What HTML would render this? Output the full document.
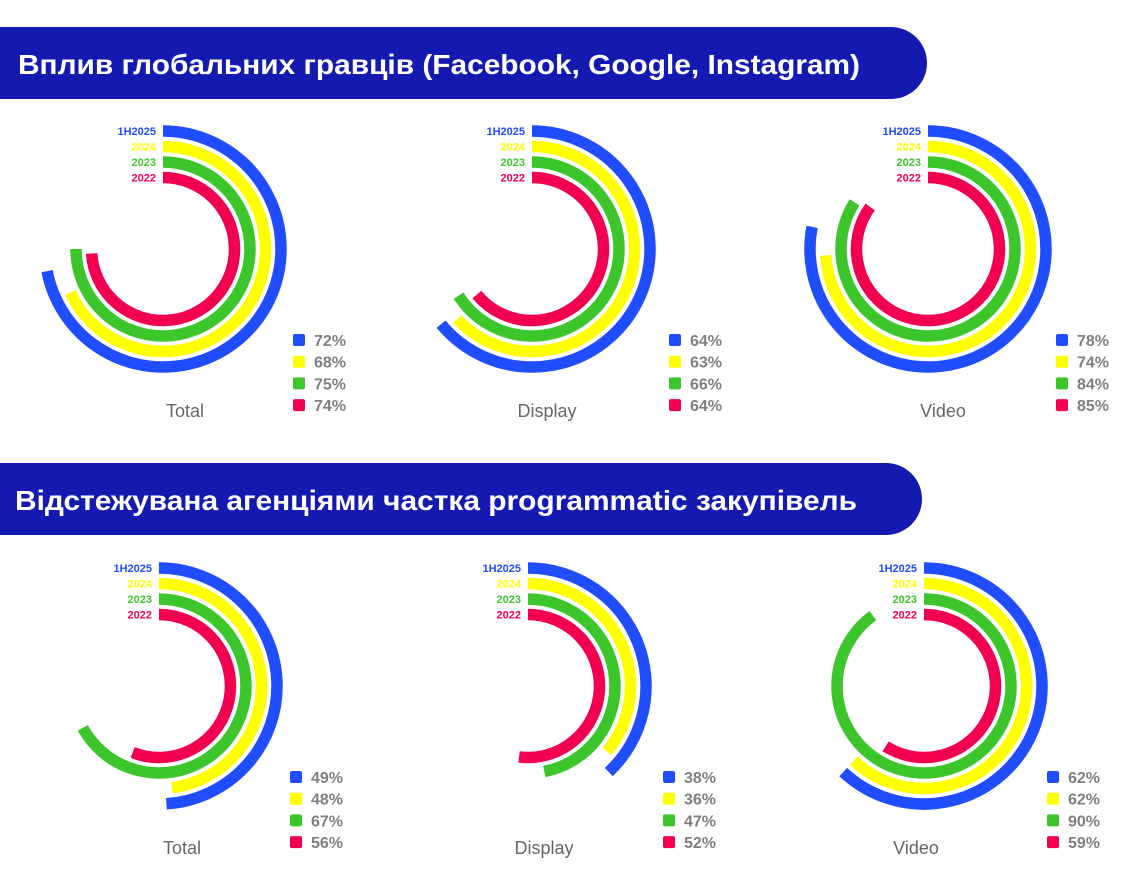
<!DOCTYPE html>
<html><head><meta charset="utf-8"><style>
html,body{margin:0;padding:0;background:#fff;}
svg{display:block;font-family:"Liberation Sans",Arial,sans-serif;}
</style></head><body>
<svg id="c" width="1136" height="884" viewBox="0 0 1136 884">
<path d="M0 27 H891 A36 36 0 0 1 891 99 H0 Z" fill="#1419b0"/>
<text x="18" y="74" fill="#fff" font-size="28" font-weight="bold" textLength="842" lengthAdjust="spacingAndGlyphs">Вплив глобальних гравців (Facebook, Google, Instagram)</text>
<path d="M0 463 H886 A36 36 0 0 1 886 535 H0 Z" fill="#1419b0"/>
<text x="15" y="510" fill="#fff" font-size="28" font-weight="bold" textLength="842" lengthAdjust="spacingAndGlyphs">Відстежувана агенціями частка programmatic закупівель</text>
</svg>
<script>
const seriesNames = ["1H2025","2024","2023","2022"];
const seriesColors = ["#1f4dff","#ffff00","#3cc62c","#f2004f"];
const categories = ["Total","Display","Video","Total","Display","Video"];
const values = [
  [72,68,75,74],
  [64,63,66,64],
  [78,74,84,85],
  [49,48,67,56],
  [38,36,47,52],
  [62,62,90,59]
];
const centersX = [163,532,928,159,528,924];
const centersY = [249,249,249,686,686,686];
const legendX = [293,669,1056,290,663,1047];
const labelX = [185,547,943,182,544,916];
const radii = [118,102.5,87,71.5];
const NS="http://www.w3.org/2000/svg";
const svg=document.getElementById('c');
function angle(v){return v/100*2*Math.PI;}
function pt(cx,cy,r,a){return [cx+r*Math.sin(a), cy-r*Math.cos(a)];}
function mk(tag,attrs){const e=document.createElementNS(NS,tag);for(const k in attrs)e.setAttribute(k,attrs[k]);svg.appendChild(e);return e;}
categories.forEach((cat,ci)=>{
  const cx=centersX[ci], cy=centersY[ci];
  values[ci].forEach((v,si)=>{
    const r=radii[si], a=angle(v);
    const p0=pt(cx,cy,r,0), p1=pt(cx,cy,r,a);
    const large=a>Math.PI?1:0;
    const path=mk('path',{d:`M${p0[0]} ${p0[1]} A${r} ${r} 0 ${large} 1 ${p1[0]} ${p1[1]}`,fill:'none',stroke:seriesColors[si],'stroke-width':11.5});
    
    
    const t=mk('text',{x:cx-7,y:cy-r+4,'text-anchor':'end','font-size':11,'font-weight':'bold',fill:seriesColors[si]});
    t.textContent=seriesNames[si];
    
    
    const ly=cy+85+si*21.7;
    const sq=mk('rect',{x:legendX[ci],y:ly,width:12,height:12,rx:2,fill:seriesColors[si]});
    
    
    const lt=mk('text',{x:legendX[ci]+21,y:ly+12,'font-size':16,'font-weight':'bold',fill:'#7f7f7f'});
    lt.textContent=v+'%';
    
    
  });
  const ct=mk('text',{x:labelX[ci],y:cy+168,'text-anchor':'middle','font-size':18,fill:'#666'});
  ct.textContent=cat;
  
  
});
</script>
</body></html>
